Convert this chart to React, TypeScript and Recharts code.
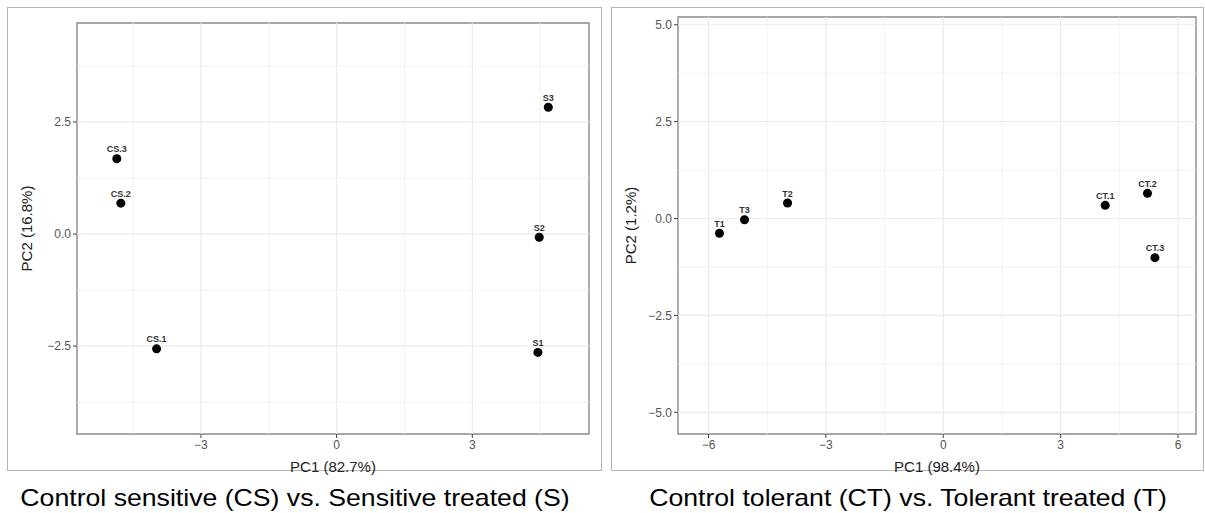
import React from 'react';
import {
  ScatterChart,
  Scatter,
  XAxis,
  YAxis,
  ReferenceLine,
  ReferenceArea,
  LabelList,
} from 'recharts';

// Control sensitive vs sensitive treated
const leftNames = ['CS.1', 'CS.2', 'CS.3', 'S1', 'S2', 'S3'];
const leftPC1 = [-3.98, -4.77, -4.86, 4.45, 4.48, 4.68];
const leftPC2 = [-2.56, 0.69, 1.68, -2.64, -0.07, 2.83];
const leftXTicks = [-3, 0, 3];
const leftXMinor = [-4.5, -1.5, 1.5, 4.5];
const leftYTicks = [-2.5, 0, 2.5];
const leftYMinor = [-3.75, -1.25, 1.25, 3.75];
const leftXDomain = [-5.74, 5.58];
const leftYDomain = [-4.46, 4.71];

// Control tolerant vs tolerant treated
const rightNames = ['CT.1', 'CT.2', 'CT.3', 'T1', 'T2', 'T3'];
const rightPC1 = [4.14, 5.22, 5.41, -5.72, -3.98, -5.08];
const rightPC2 = [0.34, 0.65, -1.01, -0.38, 0.4, -0.03];
const rightXTicks = [-6, -3, 0, 3, 6];
const rightXMinor = [-4.5, -1.5, 1.5, 4.5];
const rightYTicks = [-5, -2.5, 0, 2.5, 5];
const rightYMinor = [-3.75, -1.25, 1.25, 3.75];
const rightXDomain = [-6.78, 6.46];
const rightYDomain = [-5.56, 5.2];

const toRows = (names: string[], xs: number[], ys: number[]) =>
  names.map((name, i) => ({ name, x: xs[i], y: ys[i] }));

const minus = (s: string) => s.replace('-', '\u2212');
const fmtX = (v: number) => minus(String(v));
const fmtY = (v: number) => minus(v.toFixed(1));

const tickStyle = { fill: '#555', fontSize: 12 };

interface PanelProps {
  left: number;
  width: number;
  height: number;
  margin: { top: number; right: number; bottom: number; left: number };
  yAxisWidth: number;
  xAxisHeight: number;
  rows: { name: string; x: number; y: number }[];
  xTicks: number[];
  xMinor: number[];
  yTicks: number[];
  yMinor: number[];
  xDomain: number[];
  yDomain: number[];
  xTitle: string;
  yTitle: string;
  yTitleOffset: number;
}

function Panel(p: PanelProps) {
  return (
    <div style={{ position: 'absolute', left: p.left, top: 0 }}>
      <ScatterChart width={p.width} height={p.height} margin={p.margin}>
        <XAxis
          type="number"
          dataKey="x"
          domain={p.xDomain}
          ticks={p.xTicks}
          tickFormatter={fmtX}
          tick={tickStyle}
          tickLine={{ stroke: '#444' }}
          axisLine={false}
          tickSize={4}
          tickMargin={2}
          height={p.xAxisHeight}
          interval={0}
          label={{ value: p.xTitle, position: 'insideBottom', offset: 8, fill: '#222', fontSize: 15 }}
        />
        <YAxis
          type="number"
          dataKey="y"
          domain={p.yDomain}
          ticks={p.yTicks}
          tickFormatter={fmtY}
          tick={tickStyle}
          tickLine={{ stroke: '#444' }}
          axisLine={false}
          tickSize={4}
          tickMargin={2}
          width={p.yAxisWidth}
          interval={0}
          label={{
            value: p.yTitle,
            angle: -90,
            position: 'insideLeft',
            offset: p.yTitleOffset,
            fill: '#222',
            fontSize: 15,
            style: { textAnchor: 'middle' },
          }}
        />
        {p.xMinor.map((v) => (
          <ReferenceLine key={`xm${v}`} x={v} stroke="#f3f3f3" strokeWidth={1} />
        ))}
        {p.yMinor.map((v) => (
          <ReferenceLine key={`ym${v}`} y={v} stroke="#f3f3f3" strokeWidth={1} />
        ))}
        {p.xTicks.map((v) => (
          <ReferenceLine key={`xM${v}`} x={v} stroke="#ebebeb" strokeWidth={1.2} />
        ))}
        {p.yTicks.map((v) => (
          <ReferenceLine key={`yM${v}`} y={v} stroke="#ebebeb" strokeWidth={1.2} />
        ))}
        <ReferenceArea
          x1={p.xDomain[0]}
          x2={p.xDomain[1]}
          y1={p.yDomain[0]}
          y2={p.yDomain[1]}
          fill="none"
          fillOpacity={0}
          stroke="#8a8a8a"
          strokeWidth={1.4}
          ifOverflow="visible"
        />
        <Scatter data={p.rows} fill="#000" isAnimationActive={false}>
          <LabelList dataKey="name" position="top" offset={2} fontSize={9} fontWeight="bold" fill="#333" />
        </Scatter>
      </ScatterChart>
    </div>
  );
}

const frame = (left: number, width: number): React.CSSProperties => ({
  position: 'absolute',
  left,
  top: 7,
  width,
  height: 464,
  border: '1.5px solid #b4b4b4',
  boxSizing: 'border-box',
});

const caption = (center: number): React.CSSProperties => ({
  position: 'absolute',
  left: center - 300,
  width: 600,
  top: 486,
  textAlign: 'center',
  fontSize: 24,
  lineHeight: '24px',
  color: '#000',
  whiteSpace: 'nowrap',
  transform: 'scaleX(1.11)',
  transformOrigin: 'center',
});

export default function App() {
  return (
    <div
      style={{
        position: 'absolute',
        left: 0,
        top: 0,
        width: 1205,
        height: 513,
        background: '#fff',
        overflow: 'hidden',
        fontFamily: '"Liberation Sans", Arial, sans-serif',
      }}
    >
      <div style={frame(7, 595)} />
      <div style={frame(611, 593)} />
      <Panel
        left={0}
        width={600}
        height={480}
        margin={{ top: 23, right: 11, bottom: 0, left: 0 }}
        yAxisWidth={77}
        xAxisHeight={46}
        rows={toRows(leftNames, leftPC1, leftPC2)}
        xTicks={leftXTicks}
        xMinor={leftXMinor}
        yTicks={leftYTicks}
        yMinor={leftYMinor}
        xDomain={leftXDomain}
        yDomain={leftYDomain}
        xTitle="PC1 (82.7%)"
        yTitle="PC2 (16.8%)"
        yTitleOffset={27}
      />
      <Panel
        left={600}
        width={605}
        height={480}
        margin={{ top: 17, right: 9, bottom: 0, left: 0 }}
        yAxisWidth={78}
        xAxisHeight={46}
        rows={toRows(rightNames, rightPC1, rightPC2)}
        xTicks={rightXTicks}
        xMinor={rightXMinor}
        yTicks={rightYTicks}
        yMinor={rightYMinor}
        xDomain={rightXDomain}
        yDomain={rightYDomain}
        xTitle="PC1 (98.4%)"
        yTitle="PC2 (1.2%)"
        yTitleOffset={31}
      />
      <div style={caption(295)}>Control sensitive (CS) vs. Sensitive treated (S)</div>
      <div style={caption(908)}>Control tolerant (CT) vs. Tolerant treated (T)</div>
    </div>
  );
}
